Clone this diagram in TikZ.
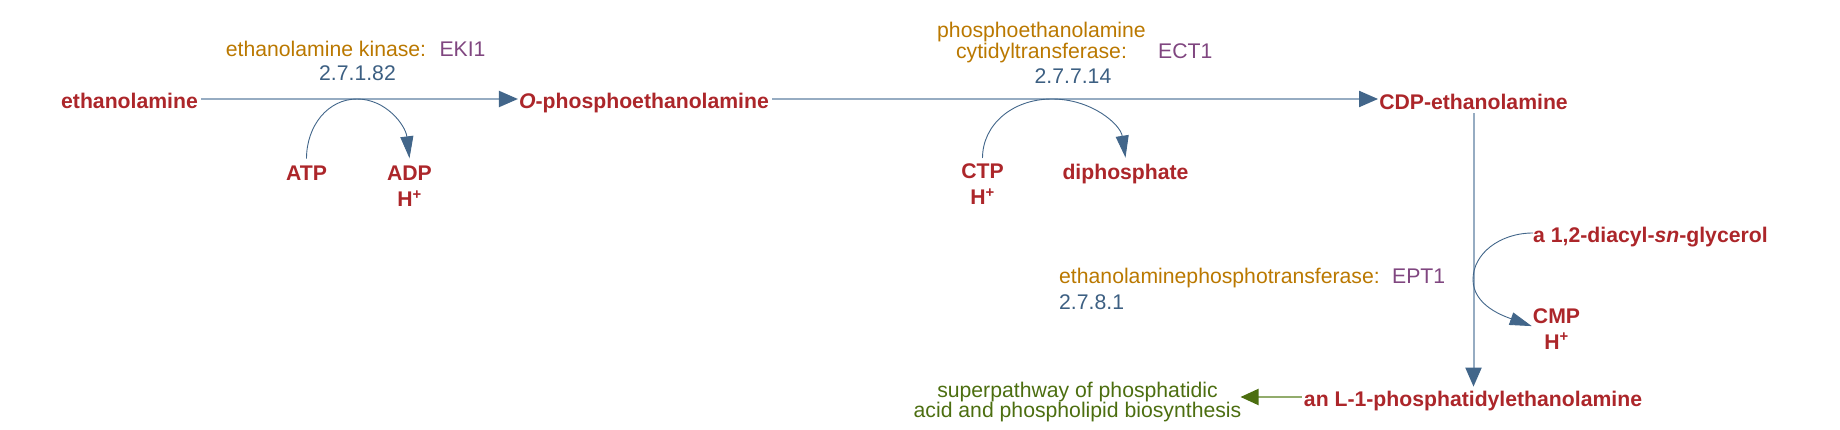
\documentclass[tikz,border=0pt]{standalone}
\usepackage{fontspec}
\setmainfont{Liberation Sans}
\usetikzlibrary{arrows.meta,calc}
\definecolor{cpd}{RGB}{172,38,42}
\definecolor{enz}{RGB}{186,120,0}
\definecolor{gene}{RGB}{128,70,128}
\definecolor{ecn}{RGB}{60,95,130}
\definecolor{mainln}{RGB}{150,172,194}
\definecolor{tipc}{RGB}{66,102,138}
\definecolor{pwy}{RGB}{76,110,16}
\definecolor{pwyln}{RGB}{146,172,108}
\begin{document}
\begin{tikzpicture}[x=1pt,y=-1pt,
  cpdn/.style={inner sep=0pt, font=\fontsize{21.2}{26}\selectfont\bfseries, text=cpd},
  enzn/.style={inner sep=0pt, font=\fontsize{21.2}{21.5}\selectfont, text=enz},
  genen/.style={inner sep=0pt, font=\fontsize{21.2}{26}\selectfont, text=gene},
  ecnode/.style={inner sep=0pt, font=\fontsize{21.2}{26}\selectfont, text=ecn},
  pwyn/.style={inner sep=0pt, font=\fontsize{21.2}{20.5}\selectfont, text=pwy, align=center},
  mainarrow/.style={draw=mainln, line width=2pt, -{Triangle[length=19pt,width=16pt,color=tipc]}},
  pwyarrow/.style={draw=pwyln, line width=2pt, -{Triangle[length=18pt,width=16pt,color=pwy]}},
  sidearc/.style={draw=tipc, line width=0.9pt, -{Triangle[length=22pt,width=13pt]}}]
\useasboundingbox (0,0) rectangle (1840,430);

% compounds
\node[cpdn, anchor=base] (eth) at (129.5,109) {ethanolamine};
\node[cpdn, anchor=base] (oph) at (644,109) {\textit{O}-phosphoethanolamine};
\node[cpdn, anchor=base] (cdp) at (1473.5,109.5) {CDP-ethanolamine};
\node[cpdn, anchor=base] (atp) at (306.5,181) {ATP};
\node[cpdn, anchor=north, align=center] (adp) at (409.5,165.8) {ADP\\H\textsuperscript{+}};
\node[cpdn, anchor=north, align=center] (ctp) at (982.5,163.8) {CTP\\H\textsuperscript{+}};
\node[cpdn, anchor=base] (ppi) at (1125.5,179.5) {diphosphate};
\node[cpdn, anchor=base west] (dag) at (1533,242.5) {a 1,2-diacyl-\textit{sn}-glycerol};
\node[cpdn, anchor=north, align=center] (cmp) at (1556.5,308.1) {CMP\\H\textsuperscript{+}};
\node[cpdn, anchor=base] (pe) at (1473,406.7) {an L-1-phosphatidylethanolamine};
\node[pwyn, anchor=north] (pwy) at (1077.5,381.5) {superpathway of phosphatidic\\acid and phospholipid biosynthesis};

% enzymes
\node[enzn, anchor=base] (ekn) at (326,56.5) {ethanolamine kinase:};
\node[genen, anchor=base] (ekg) at (462.5,56.5) {EKI1};
\node[ecnode, anchor=base] (eke) at (357.5,81) {2.7.1.82};
\node[enzn, anchor=north, align=center] (ectn) at (1041.5,21.8) {phosphoethanolamine\\cytidyltransferase:};
\node[genen, anchor=base west] (ectg) at (1158,58.5) {ECT1};
\node[ecnode, anchor=base] (ecte) at (1073,83.3) {2.7.7.14};
\node[enzn, anchor=base west] (eptn) at (1059,283.5) {ethanolaminephosphotransferase:};
\node[genen, anchor=base west] (eptg) at (1392,283.5) {EPT1};
\node[ecnode, anchor=base west] (epte) at (1059,309.3) {2.7.8.1};

% helper coordinates
\coordinate (row) at (0,99);
\coordinate (grow) at (0,397);
\coordinate (k1) at (357,99);
\coordinate (k2) at (1052,99);
\coordinate (k3) at (1473,279.5);

% main reactions
\draw[mainarrow, shorten <=3pt, shorten >=1pt] (eth.east |- row) -- (oph.west |- row);
\draw[mainarrow, shorten <=3pt, shorten >=1pt] (oph.east |- row) -- (cdp.west |- row);
\draw[mainarrow, shorten <=3.5pt, shorten >=4.5pt] (cdp.south) -- (cdp.south |- pe.north);
\draw[pwyarrow, shorten <=2pt, shorten >=-1pt] (pe.west |- grow) -- (pwy.east |- grow);

% side reactions
\draw[sidearc] ($(atp.north)+(0,-7.5)$) .. controls +(0,-33) and +(-29,0) .. (k1)
  .. controls +(29,0) and +(-4,-33) .. ($(adp.north)+(0,-7.5)$);
\draw[sidearc] ($(ctp.north)+(0,-5.8)$) .. controls +(0,-33) and +(-40,0) .. (k2)
  .. controls +(40,0) and +(-5,-33) .. ($(ppi.north)+(0,-6.3)$);
\draw[sidearc] ($(dag.base west)+(0,-9.5)$) .. controls +(-33,0) and +(0,-26) .. (k3)
  .. controls +(0,26) and +(-28,-10) .. ($(cmp.north west)+(-1,18)$);
\end{tikzpicture}
\end{document}
